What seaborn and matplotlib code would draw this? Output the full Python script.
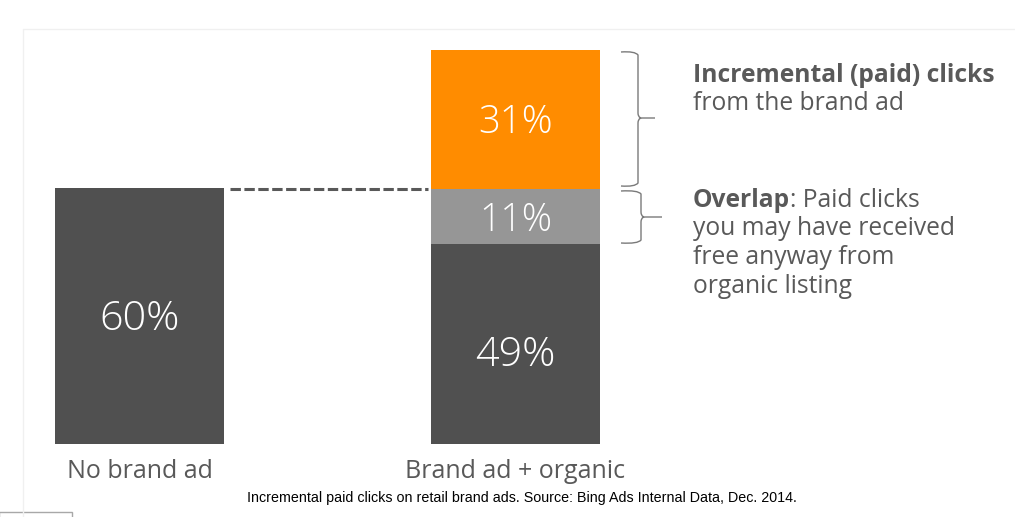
import matplotlib
matplotlib.use("Agg")
import matplotlib.pyplot as plt
import seaborn as sns
import pandas as pd
from matplotlib.path import Path
from matplotlib.patches import PathPatch, Rectangle
from matplotlib.transforms import Affine2D, offset_copy

# Data: segment heights as drawn in the picture (the source is not to scale), and printed labels
categories = ["No brand ad", "Brand ad + organic"]
dark_values = [60, 46.9]
overlap_values = [0, 12.9]
incremental_values = [0, 32.5]
dark_labels = ["60%", "49%"]
overlap_label = "11%"
incremental_label = "31%"
caption = "Incremental paid clicks on retail brand ads. Source: Bing Ads Internal Data, Dec. 2014."

W, H = 1015, 517
DARK, GREY, ORANGE, TXT = "#505050", "#969696", "#FF8C00", "#595959"
FONT = "Open Sans"

sns.set_theme(style="white")
plt.rcParams["font.family"] = [FONT, "DejaVu Sans"]
fig = plt.figure(figsize=(W / 100, H / 100), dpi=100, facecolor="white")
ax = fig.add_axes([0, 0, 1, 1])
px = Affine2D().scale(1, -1).translate(0, H)

df = pd.DataFrame({"cat": categories, "dark": dark_values,
                   "overlap": overlap_values, "inc": incremental_values})
bar_w = 0.449
bar_kw = dict(saturation=1, width=bar_w, linewidth=0, ax=ax)
sns.barplot(data=df, x="cat", y="dark", color=DARK, **bar_kw)
sns.barplot(data=df, x="cat", y="overlap", bottom=df["dark"], color=GREY, **bar_kw)
sns.barplot(data=df, x="cat", y="inc", bottom=df["dark"] + df["overlap"], color=ORANGE, **bar_kw)

ax.set_xlim(-139.5 / 376, (W - 139.5) / 376)
ax.set_ylim(-(H - 444) / 4.267, 444 / 4.267)
ax.axis("off")

# Value labels (nudged downwards by the pixels seen in the reference)
def value_label(x, y, s, down, size):
    ax.text(x, y, s, ha="center", va="center", color="white", fontsize=size, fontweight="light",
            transform=offset_copy(ax.transData, fig=fig, y=-down, units="dots"))

value_label(0, dark_values[0] / 2, dark_labels[0], 4, 29.7)
value_label(1, dark_values[1] / 2, dark_labels[1], 12, 29.7)
value_label(1, dark_values[1] + overlap_values[1] / 2, overlap_label, 4, 27)
value_label(1, dark_values[1] + overlap_values[1] + incremental_values[1] / 2, incremental_label, 3, 27.5)

# Connector
ax.add_line(plt.Line2D([230, 428], [189, 189], transform=px, color=TXT, lw=2.2,
                       dashes=(3.4, 1.15), dash_capstyle="butt"))

# Braces
def brace(x0, xm, xt, y0, ym, y1):
    v = [(x0, y0), (xm - 3, y0 - 1), (xm, y0 + 3), (xm, ym - 5), (xm, ym - 1), (xm + 3, ym),
         (xt, ym), (xm + 3, ym), (xm, ym + 1), (xm, ym + 5), (xm, y1 - 3), (xm - 3, y1 + 1), (x0, y1)]
    c = [Path.MOVETO, Path.CURVE3, Path.CURVE3, Path.LINETO, Path.CURVE3, Path.CURVE3,
         Path.LINETO, Path.MOVETO, Path.CURVE3, Path.CURVE3, Path.LINETO, Path.CURVE3, Path.CURVE3]
    ax.add_patch(PathPatch(Path(v, c), transform=px, fc="none", ec="#7a7a7a", lw=1.0))

brace(621, 638, 655, 52, 118, 186)
brace(621, 641, 662, 191, 217, 243)

# Side annotations
FS = 17.7
t = ax.text(693, 82, "Incremental (paid) clicks", transform=px, fontsize=FS, fontweight="bold", color=TXT, va="baseline")
ax.text(693, 110, "from the brand ad", transform=px, fontsize=FS, color=TXT, va="baseline")
t = ax.text(693, 207, "Overlap", transform=px, fontsize=FS, fontweight="bold", color=TXT, va="baseline")
ax.annotate(": Paid clicks", xy=(1, 0), xycoords=t, xytext=(0, 0), textcoords="offset points",
            fontsize=FS, color=TXT, va="bottom", ha="left")
for y, s in zip([235, 264, 293], ["you may have received", "free anyway from", "organic listing"]):
    ax.text(693, y, s, transform=px, fontsize=FS, color=TXT, va="baseline")

# Category labels
for i, c in enumerate(categories):
    ax.text(i, -(478 - 444) / 4.267, c, ha="center", va="baseline", fontsize=18, color=TXT)

ax.text(522, 502, caption, transform=px, ha="center", va="baseline",
        fontsize=10.28, color="black", family="Liberation Sans")

# Faint frame and the clipped box at the lower left
ax.add_line(plt.Line2D([22.5, 22.5, W], [H, 28.5, 28.5], transform=px, color="#f0f0f0", lw=1))
ax.add_patch(Rectangle((-1, 512), 73, 10, transform=px, fc="white", ec="#a8a8a8", lw=1, clip_on=True))

fig.savefig("out.png", dpi=100, facecolor="white")
